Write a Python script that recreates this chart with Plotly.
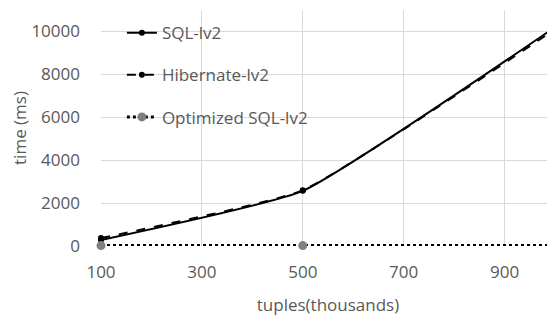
import plotly.graph_objects as go

x_vals = [100, 500, 1000]
sql_lv2 = [280, 2570, 10200]
hibernate_lv2 = [370, 2600, 10100]
optimized_sql_lv2 = [20, 20, 20]
x_ticks = [100, 300, 500, 700, 900]
y_ticks = [0, 2000, 4000, 6000, 8000, 10000]

font_fam = "Open Sans, Noto Sans, sans-serif"
txt_col = "#595959"

fig = go.Figure()
fig.add_trace(go.Scatter(x=x_vals, y=sql_lv2, name="SQL-lv2", mode="lines+markers",
                         line=dict(color="black", width=2, shape="spline", smoothing=0.4),
                         marker=dict(color="black", size=6), legendgroup="a", cliponaxis=False))
fig.add_trace(go.Scatter(x=x_vals, y=hibernate_lv2, name="Hibernate-lv2", mode="lines+markers",
                         line=dict(color="black", width=2, dash="dash", shape="spline", smoothing=0.4),
                         marker=dict(color="black", size=6), legendgroup="b", cliponaxis=False))
fig.add_trace(go.Scatter(x=x_vals, y=optimized_sql_lv2, name="Optimized SQL-lv2", mode="lines+markers",
                         line=dict(color="black", width=3, dash="dot"),
                         marker=dict(color="#7f7f7f", size=9), legendgroup="c", cliponaxis=False))

fig.update_layout(
    width=547, height=309,
    margin=dict(l=93, r=0, t=2, b=71, autoexpand=False),
    paper_bgcolor="white", plot_bgcolor="white",
    font=dict(family=font_fam, size=17, color=txt_col),
    legend=dict(x=0.046, y=0.978, xanchor="left", yanchor="top", bgcolor="rgba(0,0,0,0)",
                font=dict(size=17, color=txt_col), tracegroupgap=17, traceorder="grouped"),
    xaxis=dict(range=[100, 1000], tickvals=x_ticks, showgrid=True, gridcolor="#d9d9d9",
               zeroline=False, showline=False, ticks="", automargin=False,
               ticklabelstandoff=14,
               title=dict(text="tuples(thousands)", standoff=17, font=dict(size=17, color=txt_col))),
    yaxis=dict(range=[0, 11000], tickvals=y_ticks, tickformat="d", showgrid=True, gridcolor="#d9d9d9",
               zeroline=False, showline=False, ticks="", automargin=False,
               ticklabelstandoff=20,
               title=dict(text="time (ms)", standoff=8, font=dict(size=17, color=txt_col))),
)
fig.write_html("out.html")
